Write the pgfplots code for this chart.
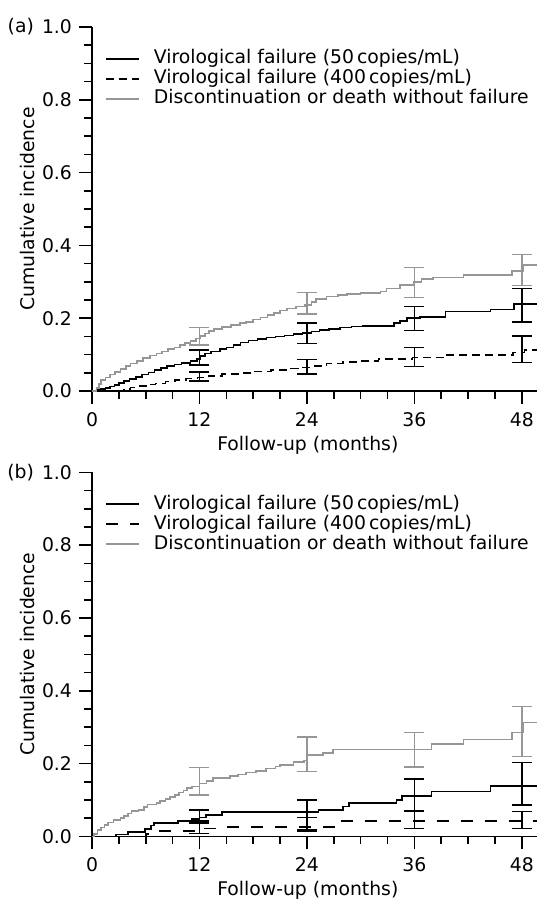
\documentclass[border=0pt]{standalone}
\usepackage{pgfplots}
\pgfplotsset{compat=1.18}
\usepackage{pgfplotstable}
\usepackage{fontspec}
\setmainfont{DejaVu Sans}

\definecolor{discgray}{RGB}{150,150,150}

% ---------- panel (a) ----------
\pgfplotstableread{
t v
0 0
0.5 0.008
0.8 0.020
1.0 0.030
1.5 0.037
2.0 0.045
2.6 0.053
3.2 0.060
3.8 0.068
4.3 0.075
5.0 0.082
5.7 0.090
6.5 0.097
7.2 0.103
7.8 0.108
8.5 0.115
9.2 0.120
9.8 0.126
10.4 0.132
11.0 0.138
11.6 0.144
12.1 0.151
12.6 0.158
13.1 0.165
13.6 0.171
14.5 0.176
15.5 0.181
16.5 0.186
17.2 0.190
18.0 0.196
18.8 0.202
19.6 0.208
20.3 0.215
21.0 0.221
21.8 0.227
22.8 0.232
23.8 0.236
24.5 0.245
25.0 0.252
26.2 0.260
27.5 0.264
28.5 0.267
30.0 0.270
32.2 0.273
32.9 0.282
34.4 0.291
35.9 0.299
36.8 0.307
38.1 0.312
41.5 0.319
46.9 0.330
48.2 0.346
49.7 0.346
}\aDisc

\pgfplotstableread{
t v ep em
12 0.150 0.024 0.024
24 0.236 0.035 0.025
36 0.299 0.040 0.042
48 0.330 0.045 0.040
}\aDiscErr

\pgfplotstableread{
t v
0 0
0.5 0.003
1.0 0.006
1.5 0.009
2.0 0.012
2.5 0.016
3.0 0.022
3.6 0.028
4.2 0.033
4.9 0.039
5.6 0.045
6.3 0.051
7.0 0.057
7.7 0.063
8.4 0.068
9.2 0.073
10.0 0.077
11.0 0.082
11.7 0.088
12.1 0.096
12.6 0.103
13.3 0.108
14.3 0.115
15.0 0.120
15.8 0.127
16.6 0.133
17.5 0.139
18.5 0.143
19.5 0.147
20.5 0.150
21.5 0.153
22.5 0.156
23.5 0.160
24.5 0.164
25.4 0.168
26.5 0.171
27.7 0.174
29.0 0.177
30.3 0.179
33.7 0.186
34.4 0.193
35.2 0.200
36.6 0.204
39.5 0.218
44.5 0.224
47.1 0.239
49.7 0.239
}\aFifty

\pgfplotstableread{
t v ep em
12 0.095 0.018 0.024
24 0.160 0.026 0.029
36 0.200 0.032 0.034
48 0.239 0.043 0.049
}\aFiftyErr

\pgfplotstableread{
t v
0 0
3.6 0.005
4.3 0.010
5.0 0.014
6.0 0.018
7.1 0.021
8.2 0.026
9.3 0.030
10.5 0.034
11.8 0.037
13.0 0.042
14.5 0.046
16.5 0.050
18.2 0.054
20.0 0.058
21.8 0.062
23.0 0.065
24.5 0.069
26.2 0.076
28.0 0.080
30.0 0.083
32.0 0.088
35.8 0.092
39.6 0.099
47.0 0.106
48.3 0.113
49.7 0.113
}\aFourH

\pgfplotstableread{
t v ep em
12 0.037 0.016 0.010
24 0.067 0.020 0.020
36 0.092 0.027 0.025
48 0.108 0.043 0.030
}\aFourHErr

% ---------- panel (b) ----------
\pgfplotstableread{
t v
0 0
0.2 0.006
0.6 0.017
1.0 0.024
1.4 0.031
1.8 0.038
2.4 0.045
3.2 0.050
3.6 0.056
4.0 0.063
4.4 0.069
5.2 0.072
5.8 0.080
6.2 0.087
7.2 0.092
7.6 0.097
8.2 0.102
8.7 0.108
9.3 0.114
9.7 0.120
10.2 0.126
10.6 0.133
11.2 0.137
12.0 0.145
12.8 0.152
13.5 0.160
15.4 0.165
16.3 0.170
17.2 0.175
18.3 0.180
19.4 0.186
20.5 0.192
21.0 0.196
22.5 0.204
23.7 0.208
24.0 0.224
25.8 0.229
26.9 0.239
37.9 0.254
41.5 0.266
46.9 0.285
48.2 0.313
49.7 0.313
}\bDisc

\pgfplotstableread{
t v ep em
12 0.146 0.043 0.033
24 0.224 0.048 0.046
36 0.239 0.046 0.048
48 0.288 0.069 0.069
}\bDiscErr

\pgfplotstableread{
t v
0 0
2.7 0.005
4.0 0.012
5.9 0.020
6.6 0.030
6.9 0.036
9.6 0.042
11.1 0.047
12.0 0.052
12.7 0.059
14.5 0.066
25.3 0.072
28.0 0.082
28.7 0.092
34.0 0.099
34.6 0.111
37.9 0.123
44.5 0.139
49.7 0.139
}\bFifty

\pgfplotstableread{
t v ep em
12 0.052 0.021 0.015
24 0.066 0.034 0.049
36 0.111 0.047 0.041
48 0.139 0.064 0.053
}\bFiftyErr

\pgfplotstableread{
t v
0 0
6.0 0.007
6.5 0.014
12.1 0.021
14.2 0.025
27.6 0.042
49.7 0.042
}\bFourH

\pgfplotstableread{
t v ep em
12 0.020 0.022 0.012
24 0.025 0.027 0.012
36 0.042 0.028 0.021
48 0.042 0.026 0.021
}\bFourHErr

\pgfplotsset{
  kmpanel/.style={
    scale only axis, width=222.5pt, height=182pt,
    xmin=0, xmax=49.7, ymin=0, ymax=1,
    enlargelimits=false, clip=false,
    axis x line=bottom, axis y line=left,
    axis line style={-, line width=0.8pt},
    tick align=outside,
    major tick length=6.5pt, minor tick length=4pt,
    every tick/.style={line width=0.8pt, black},
    xtick={0,12,24,36,48}, minor x tick num=3,
    ytick={0,0.2,0.4,0.6,0.8,1}, minor y tick num=3,
    xticklabel style={yshift=-0.5pt},
    yticklabel style={/pgf/number format/.cd, fixed, fixed zerofill, precision=1},
    /pgf/number format/assume math mode=true,
    xlabel={Follow-up (months)},
    ylabel={Cumulative incidence},
    every axis y label/.style={at={(axis description cs:-0.144,0.5)},
      rotate=90, anchor=center},
    every axis x label/.style={at={(axis description cs:0.485,-0.148)},
      anchor=center},
    legend style={draw=none, fill=none, inner sep=0pt, outer sep=0pt,
      at={(axis description cs:0.03,0.937)},
      anchor=north west, row sep=1pt, column sep=7pt,
      nodes={inner sep=0pt, text height=7pt, text depth=2pt}},
    legend cell align=left,
    legend image code/.code={\draw[##1] (0pt,0pt) -- (16.5pt,0pt);},
  },
  steps/.style={const plot, mark=none, line width=0.8pt},
  ebars/.style={draw=none, mark=none, forget plot,
    error bars/.cd, y dir=both, y explicit,
    error bar style={draw=#1, solid, line width=0.8pt},
    error mark options={draw=#1, solid, line width=0.8pt, mark size=5pt, rotate=90}},
}

\begin{document}
\begin{tikzpicture}[font=\fontsize{9.4}{11}\selectfont]
  \begin{axis}[kmpanel, at={(0pt,0pt)}, anchor=south west]
    \addplot[steps, black] table[x=t, y=v] {\aFifty};
    \addlegendentry{Virological failure (50\,copies/mL)}
    \addplot[steps, black, dash pattern=on 4pt off 2.5pt] table[x=t, y=v] {\aFourH};
    \addlegendentry{Virological failure (400\,copies/mL)}
    \addplot[steps, discgray] table[x=t, y=v] {\aDisc};
    \addlegendentry{Discontinuation or death without failure}
    \addplot[ebars=discgray] table[x=t, y=v, y error plus=ep, y error minus=em] {\aDiscErr};
    \addplot[ebars=black] table[x=t, y=v, y error plus=ep, y error minus=em] {\aFiftyErr};
    \addplot[ebars=black] table[x=t, y=v, y error plus=ep, y error minus=em] {\aFourHErr};
  \end{axis}
  \node[anchor=east] at (-25.5pt,182pt) {(a)};

  \begin{axis}[kmpanel, at={(0pt,-222.65pt)}, anchor=south west]
    \addplot[steps, black] table[x=t, y=v] {\bFifty};
    \addlegendentry{Virological failure (50\,copies/mL)}
    \addplot[steps, black, dash pattern=on 6pt off 6pt] table[x=t, y=v] {\bFourH};
    \addlegendentry{Virological failure (400\,copies/mL)}
    \addplot[steps, discgray] table[x=t, y=v] {\bDisc};
    \addlegendentry{Discontinuation or death without failure}
    \addplot[ebars=discgray] table[x=t, y=v, y error plus=ep, y error minus=em] {\bDiscErr};
    \addplot[ebars=black] table[x=t, y=v, y error plus=ep, y error minus=em] {\bFiftyErr};
    \addplot[ebars=black] table[x=t, y=v, y error plus=ep, y error minus=em] {\bFourHErr};
  \end{axis}
  \node[anchor=east] at (-25.5pt,-40.65pt) {(b)};

  \pgfresetboundingbox
  \useasboundingbox (-46pt,-254pt) rectangle (222.5pt,195.5pt);
\end{tikzpicture}
\end{document}
